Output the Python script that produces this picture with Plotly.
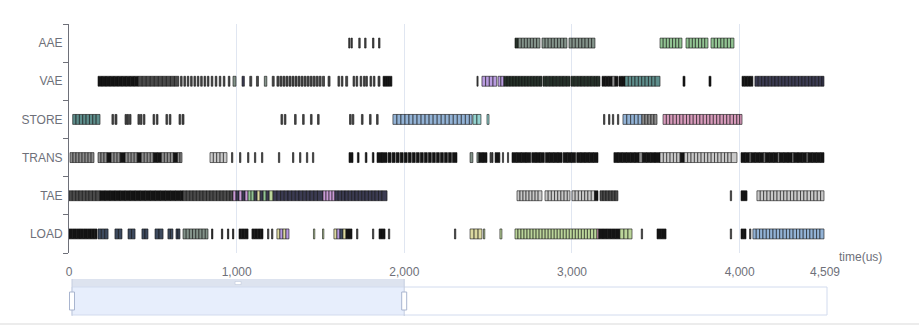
import plotly.graph_objects as go

# ---------------- data ----------------
ROWS = ["AAE", "VAE", "STORE", "TRANS", "TAE", "LOAD"]
X_TICKS = [0, 1000, 2000, 3000, 4000, 4509]
X_TICK_TEXT = ["0", "1,000", "2,000", "3,000", "4,000", "4,509"]
X_MAX = 4509
AXIS_NAME = "time(us)"
ZOOM_PERCENT = [0, 44]

PALETTE = {
    "k": "#141414", "d": "#4a4a4a", "g": "#8c8c8c", "w": "#c9c9c9",
    "e": "#26322a", "o": "#83938a", "G": "#92c493", "t": "#5e8e8c",
    "b": "#93b3d6", "c": "#95d3d0", "p": "#d79bbb", "v": "#b99ce0",
    "m": "#c99ad6", "y": "#dcd9a0", "l": "#bcd69b", "n": "#3b3b52",
    "s": "#3d4a5e",
}

# each entry: (colour key, edges in us); consecutive edges bound one task bar
AAE = [
    ("d", [1668, 1676]), ("d", [1682, 1690]), ("d", [1728, 1737]), ("d", [1763, 1772]),
    ("d", [1810, 1819]), ("d", [1846, 1855]),
    ("e", [2660, 2680]),
    ("o", [2680, 2698, 2716, 2734, 2752, 2770, 2789, 2809]),
    ("o", [2821, 2840, 2858, 2877, 2895, 2914, 2932, 2951, 2970]),
    ("o", [2982, 3001, 3020, 3040, 3059, 3078, 3098, 3117, 3137]),
    ("G", [3525, 3544, 3563, 3581, 3600, 3619, 3637, 3656]),
    ("G", [3680, 3699, 3718, 3736, 3755, 3774, 3792, 3811]),
    ("G", [3829, 3849, 3868, 3888, 3907, 3927, 3946, 3966]),
]

VAE = [
    ("k", [173, 197, 221, 245, 269, 293, 317, 341, 365, 389, 413]),
    ("d", [413, 437, 461, 485, 509, 533, 557, 581, 605, 629, 655]),
    ("d", [665, 675]), ("d", [685, 695]), ("d", [705, 715]), ("d", [725, 735]),
    ("d", [745, 755]), ("d", [765, 775]), ("d", [785, 795]), ("d", [805, 815]),
    ("d", [825, 835]), ("d", [848, 858]), ("d", [872, 882]), ("d", [896, 906]),
    ("d", [920, 930]), ("d", [950, 960]),
    ("o", [978, 996]), ("n", [1032, 1046]), ("d", [1078, 1090]), ("d", [1118, 1130]),
    ("o", [1165, 1180]), ("d", [1212, 1224]),
    ("d", [1240, 1252]), ("d", [1258, 1270]), ("d", [1276, 1288]), ("d", [1294, 1306]),
    ("d", [1312, 1324]), ("d", [1330, 1342]), ("d", [1348, 1360]), ("d", [1366, 1378]),
    ("d", [1384, 1396]), ("d", [1402, 1414]), ("d", [1420, 1432]), ("d", [1438, 1450]),
    ("d", [1456, 1468]), ("d", [1474, 1486]), ("d", [1492, 1504]), ("d", [1512, 1524]),
    ("d", [1545, 1557]),
    ("d", [1604, 1614]), ("d", [1624, 1634]), ("d", [1650, 1662]),
    ("d", [1694, 1704]), ("d", [1712, 1722]), ("d", [1736, 1746]), ("d", [1756, 1766]),
    ("d", [1770, 1780]),
    ("d", [1795, 1805]), ("d", [1815, 1825]), ("d", [1843, 1855]),
    ("k", [1873, 1885, 1897, 1909, 1926]),
    ("d", [2433, 2440]),
    ("v", [2463, 2485, 2507, 2529, 2551]),
    ("v", [2559, 2576, 2594]),
    ("e", [2594, 2612, 2630, 2648, 2666, 2684, 2702, 2720, 2738, 2756, 2774, 2792, 2810, 2821]),
    ("e", [2827, 2847, 2867, 2887, 2907, 2927, 2947, 2967, 2988]),
    ("e", [2994, 3014, 3034, 3054, 3074, 3094, 3114, 3134, 3150, 3167]),
    ("k", [3179, 3199, 3219, 3239]), ("g", [3239, 3256]), ("k", [3256, 3274]),
    ("k", [3280, 3298, 3316]),
    ("t", [3316, 3336, 3356, 3376, 3396, 3416, 3436, 3456, 3476, 3496, 3525]),
    ("k", [3662, 3674]),
    ("k", [3817, 3829]),
    ("k", [4014, 4030, 4046, 4062, 4079]),
    ("n", [4091, 4111, 4131, 4151, 4171, 4191, 4211, 4231, 4251, 4271, 4291,
           4311, 4331, 4351, 4371, 4391, 4411, 4431, 4451, 4471, 4491, 4503]),
]

STORE = [
    ("t", [22, 42, 62, 82, 102, 122, 142, 162, 185]),
    ("d", [256, 266]), ("d", [274, 286]),
    ("d", [334, 344]), ("d", [346, 356]), ("d", [360, 370]),
    ("d", [411, 421]), ("d", [425, 435]), ("d", [443, 453]),
    ("d", [501, 511]), ("d", [521, 531]),
    ("d", [578, 588]), ("d", [598, 608]),
    ("d", [656, 666]), ("d", [674, 686]),
    ("d", [1264, 1274]), ("d", [1284, 1294]),
    ("d", [1345, 1355]), ("d", [1393, 1403]), ("d", [1440, 1450]), ("d", [1482, 1492]),
    ("d", [1673, 1683]), ("d", [1689, 1699]),
    ("d", [1744, 1754]), ("d", [1792, 1802]), ("d", [1834, 1844]),
    ("b", [1932, 1956, 1980, 2004, 2028, 2052, 2076, 2100, 2124, 2148, 2172,
           2196, 2220, 2244, 2268, 2292, 2316, 2340, 2364, 2388, 2404]),
    ("c", [2409, 2433, 2457]),
    ("c", [2493, 2505]),
    ("d", [3188, 3196]), ("d", [3218, 3226]), ("d", [3241, 3249]), ("d", [3271, 3279]),
    ("b", [3304, 3327, 3350, 3372, 3395, 3417]),
    ("g", [3417, 3435, 3453, 3471, 3489, 3507]),
    ("p", [3543, 3563, 3583, 3603, 3623, 3643, 3663, 3683, 3703, 3723, 3743, 3763,
           3783, 3803, 3823, 3843, 3863, 3883, 3903, 3923, 3943, 3963, 3983, 4000, 4014]),
]

TRANS = [
    ("g", [6, 24, 42, 60, 78, 96, 114, 132, 149]),
    ("g", [173, 191, 209, 227]), ("k", [227, 251]), ("g", [251, 269, 287, 305]),
    ("k", [305, 335]), ("g", [335, 353, 371, 389, 407]), ("k", [407, 431]),
    ("g", [431, 449, 467, 485, 503]), ("k", [503, 527, 551]),
    ("g", [551, 569, 587, 605, 623]), ("k", [623, 647]), ("g", [647, 662, 674]),
    ("w", [841, 861, 881, 901, 921, 942]),
    ("d", [969, 977]), ("d", [1017, 1025]), ("d", [1065, 1073]), ("d", [1106, 1114]),
    ("d", [1148, 1156]),
    ("d", [1249, 1257]), ("d", [1333, 1341]), ("d", [1375, 1383]), ("d", [1416, 1424]),
    ("d", [1452, 1460]),
    ("k", [1670, 1694]),
    ("k", [1720, 1730]), ("k", [1767, 1777]), ("k", [1809, 1819]),
    ("k", [1837, 1867, 1897]),
    ("k", [1903, 1921]), ("k", [1927, 1945]), ("k", [1951, 1969]), ("k", [1975, 1993]),
    ("k", [1999, 2017]), ("k", [2023, 2041]), ("k", [2047, 2065]), ("k", [2071, 2089]),
    ("k", [2095, 2113]), ("k", [2119, 2137]), ("k", [2143, 2161]), ("k", [2167, 2185]),
    ("k", [2191, 2209]), ("k", [2215, 2233]), ("k", [2239, 2257]), ("k", [2263, 2281]),
    ("k", [2287, 2314]),
    ("o", [2392, 2409]),
    ("o", [2433, 2445]), ("k", [2445, 2469, 2493]),
    ("d", [2511, 2520]), ("d", [2523, 2529]),
    ("k", [2541, 2570]),
    ("d", [2585, 2592]), ("d", [2615, 2622]),
    ("k", [2642, 2670, 2698, 2726, 2754]), ("k", [2760, 2785, 2810, 2835]),
    ("k", [2841, 2866, 2891, 2916, 2941]), ("k", [2947, 2972, 2997, 3022]),
    ("k", [3028, 3053, 3078, 3103, 3128, 3155]),
    ("k", [3250, 3275, 3300, 3325, 3350, 3375, 3400]), ("g", [3400, 3420]),
    ("k", [3420, 3445, 3470, 3495, 3525]),
    ("w", [3525, 3545, 3565, 3585, 3605, 3625, 3645]), ("k", [3645, 3670]),
    ("w", [3670, 3690, 3710, 3730, 3750, 3770, 3790, 3810, 3830, 3850, 3870,
           3890, 3910, 3930, 3950, 3984]),
    ("k", [4008, 4033, 4058]), ("g", [4058, 4068]), ("k", [4068, 4093, 4118, 4143]),
    ("g", [4143, 4153]), ("k", [4153, 4178, 4203, 4228]), ("g", [4228, 4238]),
    ("k", [4238, 4263, 4288, 4313]), ("g", [4313, 4323]),
    ("k", [4323, 4348, 4373, 4398]), ("g", [4398, 4408]),
    ("k", [4408, 4433, 4458, 4483, 4503]),
]

TAE = [
    ("d", [0, 20, 40, 60, 80, 100, 120, 140, 160, 185]),
    ("k", [185, 215, 245, 275, 305, 335, 365, 395, 425, 455, 485, 515, 545, 575,
           605, 635, 665, 680]),
    ("d", [680, 700, 720, 740, 760, 780, 800, 820, 840, 860, 880, 900, 920, 940, 960, 978]),
    ("m", [978, 996]), ("n", [996, 1014]), ("m", [1014, 1032]), ("n", [1032, 1050]),
    ("m", [1050, 1068]), ("G", [1068, 1086, 1104]), ("n", [1104, 1122]),
    ("y", [1122, 1140]), ("n", [1140, 1158]), ("G", [1158, 1176]), ("n", [1176, 1194]),
    ("l", [1194, 1217]), ("n", [1217, 1240]),
    ("n", [1240, 1262, 1284, 1306, 1328, 1350, 1372, 1394, 1416, 1438, 1460, 1482, 1515]),
    ("m", [1515, 1533, 1551, 1569, 1586]),
    ("n", [1586, 1606, 1626, 1646, 1666, 1686, 1706, 1726, 1746, 1766, 1786, 1806,
           1826, 1846, 1866, 1897]),
    ("w", [2672, 2690, 2708, 2726, 2744, 2762, 2780, 2798, 2821]),
    ("w", [2839, 2858, 2877, 2896, 2915, 2934, 2953, 2972, 2988]),
    ("w", [3000, 3019, 3038, 3057, 3076, 3095, 3115, 3135]), ("k", [3135, 3155]),
    ("d", [3167, 3185, 3203, 3221, 3239, 3256, 3274]),
    ("d", [3944, 3952]),
    ("k", [4008, 4020, 4032, 4044]),
    ("w", [4103, 4123, 4143, 4163, 4183, 4203, 4223, 4243, 4263, 4283, 4303, 4323,
           4343, 4363, 4383, 4403, 4423, 4443, 4463, 4483, 4503]),
]

LOAD = [
    ("k", [0, 22, 44, 66, 88, 110, 132, 150, 167]),
    ("s", [173, 193, 213, 233]),
    ("s", [274, 295, 316]),
    ("s", [352, 373, 394]),
    ("s", [435, 453, 471]),
    ("s", [513, 537, 561]),
    ("s", [590, 605, 620]),
    ("s", [638, 650, 662]),
    ("o", [680, 699, 718, 737, 756, 775, 794, 813, 829]),
    ("k", [850, 858]),
    ("k", [909, 917]), ("k", [945, 953]), ("k", [975, 983]),
    ("k", [1014, 1030, 1046, 1068]),
    ("k", [1091, 1107, 1123, 1140, 1157]),
    ("d", [1184, 1192]), ("d", [1208, 1216]),
    ("y", [1240, 1258]), ("v", [1258, 1276]), ("y", [1276, 1294]), ("v", [1294, 1312]),
    ("l", [1458, 1466]), ("l", [1512, 1520]),
    ("y", [1580, 1598]), ("v", [1598, 1616]), ("s", [1616, 1634]), ("y", [1634, 1652]),
    ("k", [1652, 1670, 1688]),
    ("d", [1715, 1723]), ("d", [1810, 1818]),
    ("k", [1849, 1867, 1885]),
    ("d", [1905, 1913]),
    ("d", [2299, 2307]),
    ("y", [2392, 2416, 2440, 2463]),
    ("l", [2472, 2480]),
    ("l", [2570, 2582]),
    ("l", [2660, 2678, 2696, 2714, 2732, 2750, 2768, 2786, 2804, 2822, 2840, 2858,
           2876, 2894, 2912, 2930, 2948, 2966, 2984, 3002, 3020, 3038, 3056, 3074,
           3092, 3110, 3130, 3149]),
    ("p", [3149, 3160]),
    ("k", [3160, 3185, 3210, 3235, 3260, 3286]),
    ("l", [3286, 3310, 3334, 3358]),
    ("d", [3413, 3421]),
    ("k", [3507, 3534, 3561]),
    ("d", [3944, 3952]),
    ("k", [4008, 4023, 4038]),
    ("d", [4059, 4067]),
    ("b", [4079, 4099, 4119, 4139, 4159, 4179, 4199, 4219, 4239, 4259, 4279, 4299,
           4319, 4339, 4359, 4379, 4399, 4419, 4439, 4459, 4479, 4503]),
]

ROW_DATA = {"AAE": AAE, "VAE": VAE, "STORE": STORE, "TRANS": TRANS, "TAE": TAE, "LOAD": LOAD}

# ---------------- figure ----------------
W, H = 919, 336
ML, MR, MT, MB = 69, 94, 24, 83
PW, PH = W - ML - MR, H - MT - MB

fig = go.Figure()
for row in ROWS:
    starts, durs, cols = [], [], []
    for key, edges in ROW_DATA[row]:
        for a, b in zip(edges[:-1], edges[1:]):
            starts.append(a)
            durs.append(b - a)
            cols.append(PALETTE[key])
    fig.add_trace(go.Bar(
        y=[row] * len(starts), x=durs, base=starts, orientation="h",
        width=0.26,
        marker=dict(color=cols, line=dict(color="#111111", width=0.6)),
        hoverinfo="skip", showlegend=False,
    ))

def px_x(p):
    return (p - ML) / PW

def px_y(p):
    return (H - MB - p) / PH

# dataZoom slider decoration
sl_x0, sl_x1 = 72, 827
win0 = sl_x0 + (sl_x1 - sl_x0) * ZOOM_PERCENT[0] / 100
win1 = sl_x0 + (sl_x1 - sl_x0) * ZOOM_PERCENT[1] / 100
shapes = [
    dict(type="rect", xref="paper", yref="paper", x0=px_x(win0), x1=px_x(win1),
         y0=px_y(287), y1=px_y(315), fillcolor="#e7eefc", line=dict(width=0), layer="above"),
    dict(type="rect", xref="paper", yref="paper", x0=px_x(win0), x1=px_x(win1),
         y0=px_y(279), y1=px_y(287), fillcolor="#dde3ef", line=dict(width=0), layer="above"),
    dict(type="rect", xref="paper", yref="paper", x0=px_x(sl_x0), x1=px_x(sl_x1),
         y0=px_y(287), y1=px_y(315), fillcolor="rgba(0,0,0,0)",
         line=dict(color="#d2dbee", width=1), layer="above"),
    dict(type="line", xref="paper", yref="paper", x0=px_x(win0), x1=px_x(win0),
         y0=px_y(279), y1=px_y(316), line=dict(color="#c4cde0", width=1), layer="above"),
    dict(type="line", xref="paper", yref="paper", x0=px_x(win1), x1=px_x(win1),
         y0=px_y(279), y1=px_y(316), line=dict(color="#c4cde0", width=1), layer="above"),
    dict(type="rect", xref="paper", yref="paper", x0=px_x(win0 - 2.5), x1=px_x(win0 + 2.5),
         y0=px_y(292), y1=px_y(310), fillcolor="#ffffff",
         line=dict(color="#a9b5cf", width=1), layer="above"),
    dict(type="rect", xref="paper", yref="paper", x0=px_x(win1 - 2.5), x1=px_x(win1 + 2.5),
         y0=px_y(292), y1=px_y(310), fillcolor="#ffffff",
         line=dict(color="#a9b5cf", width=1), layer="above"),
    dict(type="rect", xref="paper", yref="paper", x0=px_x((win0 + win1) / 2 - 3),
         x1=px_x((win0 + win1) / 2 + 3), y0=px_y(281.5), y1=px_y(284.5),
         fillcolor="#ffffff", line=dict(color="#b8c2d8", width=0.5), layer="above"),
    dict(type="line", xref="paper", yref="paper", x0=px_x(0), x1=px_x(W),
         y0=px_y(324), y1=px_y(324), line=dict(color="#e6e6e6", width=1.5), layer="above"),
]

FONT = "Liberation Sans, Arial, Helvetica, sans-serif"
fig.update_layout(
    width=W, height=H,
    margin=dict(l=ML, r=MR, t=MT, b=MB, pad=0),
    plot_bgcolor="#ffffff", paper_bgcolor="#ffffff",
    barmode="overlay", showlegend=False,
    font=dict(family=FONT, size=12, color="#6e7079"),
    shapes=shapes,
    annotations=[dict(text=AXIS_NAME, xref="paper", yref="paper", x=1, y=0,
                      xanchor="left", yanchor="middle", xshift=12, yshift=-4,
                      showarrow=False, font=dict(family=FONT, size=12, color="#6e7079"))],
    xaxis=dict(range=[0, X_MAX], tickvals=X_TICKS, ticktext=X_TICK_TEXT,
               showgrid=True, gridcolor="#e0e6f1", gridwidth=1, zeroline=False,
               showline=False, ticks="outside", ticklen=8, tickcolor="rgba(0,0,0,0)",
               tickfont=dict(family=FONT, size=12, color="#6e7079"), fixedrange=True),
    yaxis=dict(type="category", categoryorder="array", categoryarray=ROWS[::-1],
               range=[-0.5, len(ROWS) - 0.5], showline=True, linecolor="#6e7079",
               linewidth=1, ticks="outside", tickson="boundaries", ticklen=5,
               tickcolor="#6e7079", showgrid=False, zeroline=False,
               ticklabelstandoff=3,
               tickfont=dict(family=FONT, size=12, color="#6e7079"), fixedrange=True),
)

fig.write_html("out.html")
